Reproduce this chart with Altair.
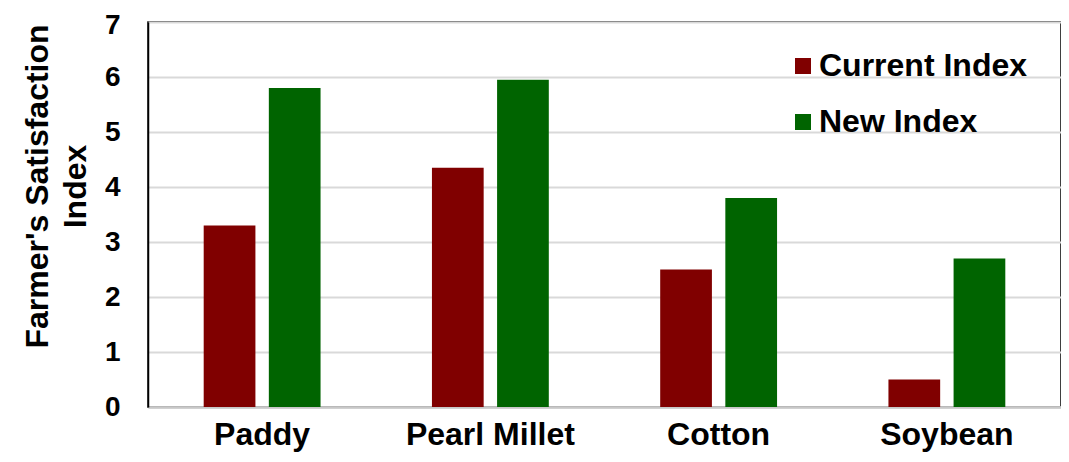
import altair as alt
import pandas as pd

crops = ["Paddy", "Pearl Millet", "Cotton", "Soybean"]
current_index = [3.3, 4.35, 2.5, 0.5]
new_index = [5.8, 5.95, 3.8, 2.7]
series_names = ["Current Index", "New Index"]
series_colors = ["#800000", "#006400"]
y_ticks = [0, 1, 2, 3, 4, 5, 6, 7]

rows = []
for i, c in enumerate(crops):
    rows.append({"crop": c, "series": series_names[0], "value": current_index[i]})
    rows.append({"crop": c, "series": series_names[1], "value": new_index[i]})
df = pd.DataFrame(rows)

FONT = "Liberation Sans"

chart = alt.Chart(df).mark_bar().encode(
    x=alt.X("crop:N", sort=crops,
            scale=alt.Scale(paddingInner=0, paddingOuter=0),
            axis=alt.Axis(title=None, labelAngle=0, ticks=False, labelPadding=12,
                          labelFont=FONT, labelFontSize=32, labelFontWeight="bold",
                          labelColor="black", domainColor="#c8c8c8", domainWidth=2.5,
                          grid=False)),
    xOffset=alt.XOffset("series:N", sort=series_names,
                        scale=alt.Scale(paddingInner=0.206, paddingOuter=0.855)),
    y=alt.Y("value:Q",
            scale=alt.Scale(domain=[0, 7], nice=False),
            axis=alt.Axis(values=y_ticks, ticks=False,
                          labelPadding=28, labelFont=FONT, labelFontSize=28,
                          labelFontWeight="bold", labelColor="black",
                          labelOffset={"condition": {"test": "datum.value == 7", "value": 3}, "value": 0},
                          domainColor="black", domainWidth=1.5,
                          gridColor="#d9d9d9", gridWidth=2,
                          title=["Farmer's Satisfaction", "Index"],
                          titleFont=FONT, titleFontSize=32, titleFontWeight="bold",
                          titleColor="black", titleAngle=-90, titleAlign="center",
                          titleBaseline="top", titleX=-126, titleY=164,
                          titleLineHeight=38)),
    color=alt.Color("series:N", sort=series_names,
                    scale=alt.Scale(domain=series_names, range=series_colors),
                    legend=alt.Legend(title=None, orient="none", legendX=639, legendY=28,
                                      symbolType="square", symbolSize=256,
                                      symbolStrokeWidth=0, padding=0,
                                      labelFont=FONT, labelFontSize=32,
                                      labelFontWeight="bold", labelColor="black",
                                      labelOffset=0, rowPadding=24,
                                      labelLimit=400)),
).properties(
    width=913,
    height=385,
    autosize=alt.AutoSizeParams(type="none"),
    padding={"left": 140, "top": 14, "right": 0, "bottom": 47},
).configure_view(
    stroke="black", strokeWidth=1.5
)

chart.save("out.html", embed_options={"renderer": "svg", "actions": False})
